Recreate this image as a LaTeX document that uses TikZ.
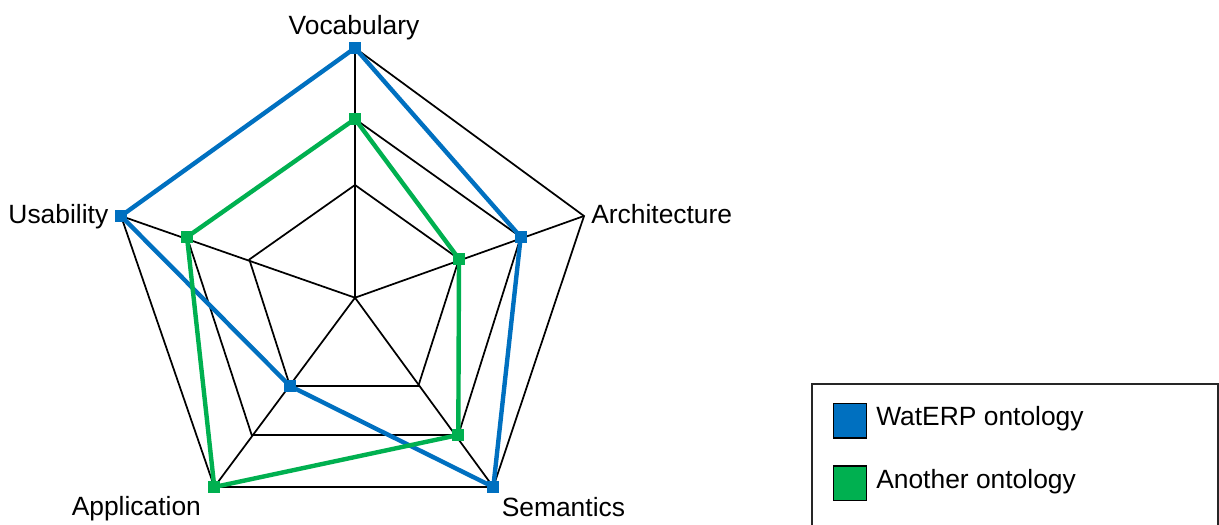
\documentclass[tikz,border=0pt]{standalone}
\usepackage{fontspec}
\setmainfont{Liberation Sans}
\usetikzlibrary{positioning}
\definecolor{waterpblue}{RGB}{0,112,192}
\definecolor{othergreen}{RGB}{0,176,80}

\tikzset{
  gridline/.style={line width=1.3pt, line join=miter},
  seriesline/.style={line width=3.3pt, line join=round},
  marker/.style={rectangle, inner sep=0pt, minimum size=9pt, fill=#1},
  axislabel/.style={inner sep=0pt, font=\fontsize{19.8}{24}\selectfont},
  keybox/.style={rectangle, draw=black, line width=1.2pt, fill=#1, minimum width=25pt, minimum height=26pt, inner sep=0pt},
  legendframe/.style={rectangle, draw=black!85, line width=1.5pt, inner sep=0pt, minimum width=305pt, minimum height=140pt}
}

\begin{document}
\begin{tikzpicture}[x=0.75pt,y=0.75pt,yscale=-1,xscale=1]
\path[use as bounding box] (0,0) rectangle (1219,524);

%Points of the radar grid
\coordinate (c) at (355,297.7);
\coordinate (v1) at (355,185);   \coordinate (v2) at (355,119);   \coordinate (v3) at (355,48);
\coordinate (a1) at (459,259);   \coordinate (a2) at (520.7,237); \coordinate (a3) at (584,216);
\coordinate (s1) at (418.3,386); \coordinate (s2) at (458.3,435); \coordinate (s3) at (493.3,487);
\coordinate (p1) at (290,386);   \coordinate (p2) at (251.7,435); \coordinate (p3) at (214.3,487);
\coordinate (u1) at (249.3,259.5); \coordinate (u2) at (187,237); \coordinate (u3) at (121,216);

%Grid pentagons and spokes
\foreach \l in {1,2,3}
  \draw[gridline] (v\l) -- (a\l) -- (s\l) -- (p\l) -- (u\l) -- cycle;
\foreach \k in {v,a,s,p,u}
  \draw[gridline] (c) -- (\k3);

%Series: WatERP ontology
\draw[seriesline, waterpblue] (v3) -- (a2) -- (s3) -- (p1) -- (u3) -- cycle;
\foreach \k in {v3,a2,s3,p1,u3}
  \node[marker=waterpblue] (w-\k) at (\k) {};

%Series: Another ontology
\draw[seriesline, othergreen] (v2) -- (a1) -- (s2) -- (p3) -- (u2) -- cycle;
\foreach \k in {v2,a1,s2,p3,u2}
  \node[marker=othergreen] (g-\k) at (\k) {};

% Text Node
\node[axislabel, anchor=base] (vocab) at (354,35) {Vocabulary};
\node[axislabel, anchor=base west] (arch) at (591,223) {Architecture};
\node[axislabel, anchor=base west] (sema) at (501.5,516.5) {Semantics};
\node[axislabel, anchor=base west] (appl) at (71.5,515.5) {Application};
\node[axislabel, anchor=base east] (usab) at (108.5,223.5) {Usability};

%Legend
\node[legendframe, anchor=north west] (legend) at (810.7,383.3) {};
\node[keybox=waterpblue] (keyw) at (850,420.8) {};
\node[keybox=othergreen] (keyg) at (850,483.3) {};
\node[axislabel, anchor=base west] (textw) at (876,425) {WatERP ontology};
\node[axislabel, anchor=base west] (textg) at (876,488.3) {Another ontology};

\end{tikzpicture}
\end{document}
